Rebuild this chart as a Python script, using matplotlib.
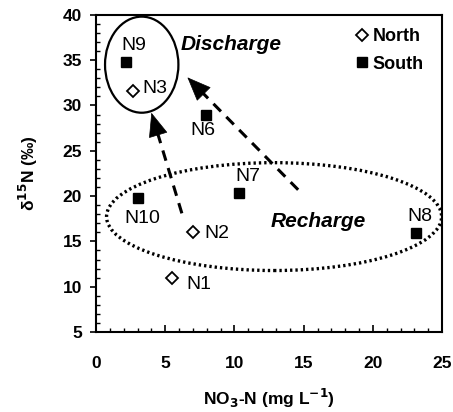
import matplotlib.pyplot as plt
from matplotlib.patches import Ellipse
from matplotlib.lines import Line2D
from matplotlib.ticker import MultipleLocator
import numpy as np

plt.rcParams['font.family'] = ['Liberation Sans', 'DejaVu Sans']
plt.rcParams['mathtext.default'] = 'bf'

# wells, NO3-N (mg/L) and d15N (permil)
north_names = ['N1', 'N2', 'N3']
north_no3 = [5.5, 7.0, 2.65]
north_d15n = [11.0, 16.0, 31.6]

south_names = ['N6', 'N7', 'N8', 'N9', 'N10']
south_no3 = [7.95, 10.35, 23.1, 2.15, 3.05]
south_d15n = [28.9, 20.3, 15.9, 34.8, 19.8]

# label offsets (points) and alignment for each well
label_pos = {
    'N1': (10, -5, 'left'), 'N2': (8, -1, 'left'), 'N3': (7, 2, 'left'),
    'N6': (-2, -11, 'center'), 'N7': (6, 12, 'center'), 'N8': (3, 12, 'center'),
    'N9': (6, 12, 'center'), 'N10': (3, -15, 'center'),
}

fig = plt.figure(figsize=(4.53, 4.12), dpi=100)
ax = fig.add_axes([0.212, 0.194, 0.764, 0.770])
ax.set_xlim(0, 25)
ax.set_ylim(5, 40)

ax.plot(north_no3, north_d15n, 'D', ms=6, mfc='white', mec='black', mew=1.3, ls='none')
ax.plot(south_no3, south_d15n, 's', ms=7, color='black', ls='none')

for names, xs, ys in [(north_names, north_no3, north_d15n), (south_names, south_no3, south_d15n)]:
    for n, x, y in zip(names, xs, ys):
        dx, dy, ha = label_pos[n]
        ax.annotate(n, (x, y), xytext=(dx, dy), textcoords='offset points',
                    ha=ha, va='center', fontsize=14)

# groups
ax.add_patch(Ellipse((3.3, 34.5), 5.3, 10.6, fill=False, lw=1.6, ec='black'))
ax.add_patch(Ellipse((12.86, 17.74), 24.2, 11.9, fill=False, lw=2.4, ec='black',
                     ls=(0, (0.7, 0.9))))
ax.text(6.1, 36.7, 'Discharge', fontsize=15, fontweight='bold', style='italic', va='center')
ax.text(12.6, 17.2, 'Recharge', fontsize=15, fontweight='bold', style='italic', va='center')

# dashed arrows: start -> tip, head drawn solid over the last ~22 px
arrows = [((6.2, 18.1), (4.0, 29.2)),
          ((14.6, 20.7), (6.6, 33.1))]
for start, tip in arrows:
    p0 = ax.transData.transform(start)
    p1 = ax.transData.transform(tip)
    d = (p1 - p0) / np.hypot(*(p1 - p0))
    base = ax.transData.inverted().transform(p1 - d * 22)
    ax.plot([start[0], base[0]], [start[1], base[1]], color='black', lw=2.2, ls=(0, (3.5, 2.5)))
    ax.annotate('', xy=tip, xytext=base,
                arrowprops=dict(arrowstyle='-|>,head_length=1.6,head_width=0.65',
                                color='black', lw=0.5, shrinkA=0, shrinkB=0))

ax.xaxis.set_major_locator(MultipleLocator(5))
ax.xaxis.set_minor_locator(MultipleLocator(1))
ax.yaxis.set_major_locator(MultipleLocator(5))
ax.yaxis.set_minor_locator(MultipleLocator(1))
ax.tick_params(axis='x', which='major', direction='in', length=5, width=1.2, pad=17)
ax.tick_params(axis='x', which='minor', direction='in', length=3, width=1)
ax.tick_params(axis='y', which='major', direction='out', length=4, width=1.2, pad=6)
ax.tick_params(axis='y', which='minor', direction='in', length=3, width=1)
for lab in ax.get_xticklabels() + ax.get_yticklabels():
    lab.set_fontweight('bold')
    lab.set_fontsize(12.5)
for s in ax.spines.values():
    s.set_linewidth(1.5)

ax.set_xlabel('NO$_3$-N (mg L$^{-1}$)', fontsize=12.5, fontweight='bold', labelpad=12)
ax.set_ylabel('δ$^{15}$N (‰)', fontsize=12.5, fontweight='bold', labelpad=16)

handles = [Line2D([], [], marker='D', ms=6, mfc='white', mec='black', mew=1.3, ls='none'),
           Line2D([], [], marker='s', ms=7, color='black', ls='none')]
ax.legend(handles, ['North', 'South'], loc='upper left', frameon=False,
          handlelength=0.6, handletextpad=0.3, labelspacing=0.6,
          borderpad=0, borderaxespad=0,
          prop={'weight': 'bold', 'size': 13}, bbox_to_anchor=(0.753, 0.959))

fig.savefig('out.png', dpi=100)
